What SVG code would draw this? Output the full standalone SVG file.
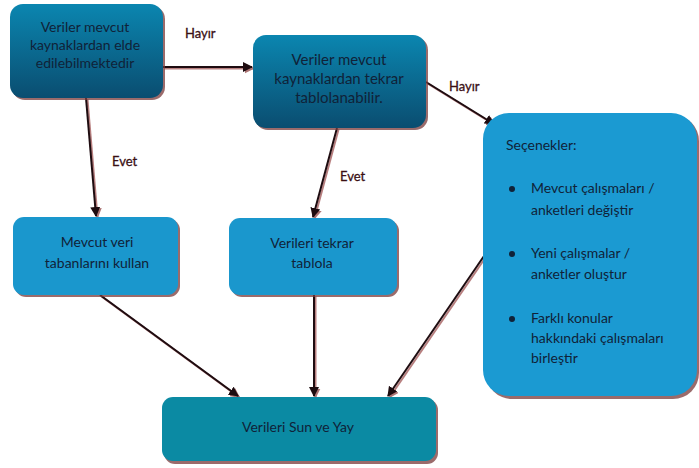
<svg xmlns="http://www.w3.org/2000/svg" width="699" height="468" viewBox="0 0 699 468">
<defs>
<linearGradient id="gDark" x1="0" y1="0" x2="0" y2="1">
<stop offset="0" stop-color="#0b86b0"/>
<stop offset="1" stop-color="#0a4d70"/>
</linearGradient>
<marker id="ah" viewBox="0 0 10 10" refX="9" refY="5" markerWidth="10" markerHeight="10" orient="auto" markerUnits="userSpaceOnUse">
<path d="M0,0 L10,5 L0,10 z" fill="#1e0c10"/>
</marker>
<marker id="ahs" viewBox="0 0 10 10" refX="9" refY="5" markerWidth="10" markerHeight="10" orient="auto" markerUnits="userSpaceOnUse">
<path d="M0,0 L10,5 L0,10 z" fill="#8a3a3a"/>
</marker>
</defs>
<style>
.sh{fill:#7a3a3a;opacity:0.75}
.t{font-family:"Lato","Liberation Sans",sans-serif;font-size:14px;fill:#102238;text-anchor:middle}
.tl{font-family:"Lato","Liberation Sans",sans-serif;font-size:14px;fill:#102238}
.lab{font-family:"Lato","Liberation Sans",sans-serif;font-size:13px;fill:#3a0f14;stroke:#3a0f14;stroke-width:0.3}
.c{stroke:#1e0c10;stroke-width:2;fill:none;marker-end:url(#ah)}
.cs{stroke:#9a4a4a;stroke-width:2;fill:none;opacity:0.7;marker-end:url(#ahs)}
</style>
<rect width="699" height="468" fill="#ffffff"/>

<g id="connectors">
<g transform="translate(1.5,1.5)">
<line class="cs" x1="163" y1="67" x2="252" y2="67"/>
<line class="cs" x1="86" y1="98" x2="96" y2="216"/>
<line class="cs" x1="337" y1="128" x2="313" y2="217"/>
<line class="cs" x1="426" y1="82" x2="494" y2="124"/>
<line class="cs" x1="100" y1="295" x2="238" y2="396"/>
<line class="cs" x1="314" y1="295" x2="314" y2="396"/>
<line class="cs" x1="484" y1="256" x2="388" y2="396"/>
</g>
<line class="c" x1="163" y1="67" x2="252" y2="67"/>
<line class="c" x1="86" y1="98" x2="96" y2="216"/>
<line class="c" x1="337" y1="128" x2="313" y2="217"/>
<line class="c" x1="426" y1="82" x2="494" y2="124"/>
<line class="c" x1="100" y1="295" x2="238" y2="396"/>
<line class="c" x1="314" y1="295" x2="314" y2="396"/>
<line class="c" x1="484" y1="256" x2="388" y2="396"/>
<text class="lab" x="185" y="38">Hayır</text>
<text class="lab" x="449" y="91">Hayır</text>
<text class="lab" x="112" y="166">Evet</text>
<text class="lab" x="340" y="181">Evet</text>
</g>

<g id="n1">
<rect class="sh" x="12" y="6" width="153" height="94" rx="13"/>
<rect x="10" y="4" width="153" height="94" rx="13" fill="url(#gDark)"/>
<text class="t" x="85" y="32">Veriler mevcut</text>
<text class="t" x="85" y="50">kaynaklardan elde</text>
<text class="t" x="85" y="68">edilebilmektedir</text>
</g>

<g id="n2">
<rect class="sh" x="255" y="37" width="173" height="93" rx="13"/>
<rect x="253" y="35" width="173" height="93" rx="13" fill="url(#gDark)"/>
<text class="t" x="339" y="65" style="font-size:15px">Veriler mevcut</text>
<text class="t" x="339" y="84" style="font-size:15px">kaynaklardan tekrar</text>
<text class="t" x="339" y="103" style="font-size:15px">tablolanabilir.</text>
</g>

<g id="n3">
<rect class="sh" x="486" y="115" width="213" height="284" rx="26"/>
<rect x="483" y="113" width="214" height="283" rx="26" fill="#1b9ad2"/>
<text class="tl" x="506" y="150">Seçenekler:</text>
<circle cx="512" cy="189" r="3" fill="#102238"/>
<text class="tl" x="531" y="193">Mevcut çalışmaları /</text>
<text class="tl" x="531" y="215">anketleri değiştir</text>
<circle cx="512" cy="254" r="3" fill="#102238"/>
<text class="tl" x="531" y="258">Yeni çalışmalar /</text>
<text class="tl" x="531" y="279">anketler oluştur</text>
<circle cx="512" cy="319" r="3" fill="#102238"/>
<text class="tl" x="531" y="323">Farklı konular</text>
<text class="tl" x="531" y="343">hakkındaki çalışmaları</text>
<text class="tl" x="531" y="363">birleştir</text>
</g>

<g id="n4">
<rect class="sh" x="15" y="219" width="165" height="78" rx="11"/>
<rect x="13" y="217" width="165" height="78" rx="11" fill="#1a97cd"/>
<text class="t" x="97" y="247">Mevcut veri</text>
<text class="t" x="97" y="268">tabanlarını kullan</text>
</g>

<g id="n5">
<rect class="sh" x="231" y="220" width="168" height="77" rx="11"/>
<rect x="229" y="218" width="168" height="77" rx="11" fill="#1a97cd"/>
<text class="t" x="312" y="248">Verileri tekrar</text>
<text class="t" x="312" y="268">tablola</text>
</g>

<g id="n6">
<rect class="sh" x="164" y="399" width="274" height="65" rx="11"/>
<rect x="162" y="397" width="274" height="64" rx="11" fill="#0b8aa3"/>
<text class="t" x="298" y="432">Verileri Sun ve Yay</text>
</g>
</svg>
